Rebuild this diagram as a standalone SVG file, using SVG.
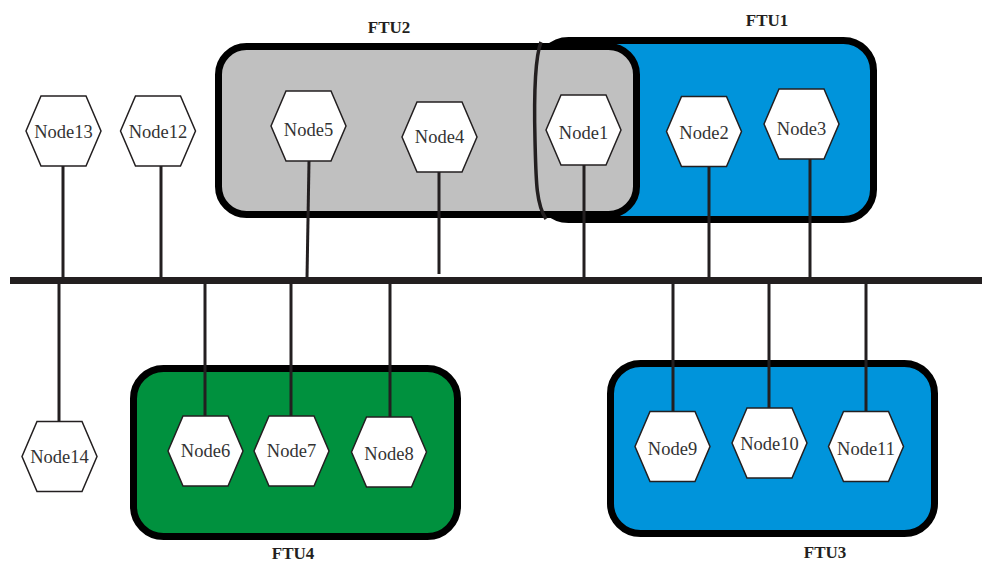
<svg xmlns="http://www.w3.org/2000/svg" xmlns:xlink="http://www.w3.org/1999/xlink" width="982" height="563" viewBox="0 0 982 563">
  <defs>
    <style>
      .ftu { stroke: #000; stroke-width: 7; }
      .ftu-gray { fill: #c0c0c0; }
      .ftu-blue { fill: #0094db; }
      .ftu-green { fill: #00913e; }
      .ftu-label { font-family: "Liberation Serif", "Times New Roman", serif; font-weight: bold; font-size: 17px; fill: #231f20; text-anchor: middle; }
      .hex { fill: #fff; stroke: #231f20; stroke-width: 1.5; }
      .node-label { font-family: "Liberation Serif", "Times New Roman", serif; font-size: 18.5px; fill: #333; text-anchor: middle; }
      .stem { stroke: #231f20; stroke-width: 3; fill: none; }
      .bus { fill: #231f20; }
    </style>
    <polygon id="hex" class="hex" points="-37.5,0 -22.5,-35 22.5,-35 37.5,0 22.5,35 -22.5,35"/>
  </defs>

  <rect width="982" height="563" fill="#fff"/>

  <!-- FTU groups -->
  <g id="ftu1">
    <rect class="ftu ftu-blue" x="538.5" y="40.5" width="335" height="179" rx="30" ry="30"/>
    <text class="ftu-label" x="767" y="26">FTU1</text>
  </g>
  <g id="ftu2">
    <rect class="ftu ftu-gray" x="218.5" y="46.5" width="418" height="168" rx="28" ry="28"/>
    <text class="ftu-label" x="389" y="33">FTU2</text>
  </g>
  <!-- left edge of FTU1 showing through the FTU2 area -->
  <path d="M 541 42 C 534 60, 534 100, 535 140 C 536 180, 536 204, 546 219" fill="none" stroke="#231f20" stroke-width="3.5"/>
  <g id="ftu4">
    <rect class="ftu ftu-green" x="133.5" y="368.5" width="324" height="168" rx="30" ry="30"/>
    <text class="ftu-label" x="293" y="559">FTU4</text>
  </g>
  <g id="ftu3">
    <rect class="ftu ftu-blue" x="610.5" y="363.5" width="324" height="170" rx="30" ry="30"/>
    <text class="ftu-label" x="825" y="558">FTU3</text>
  </g>

  <!-- bus and drop lines -->
  <g id="connectors">
    <rect class="bus" x="10" y="277" width="972" height="7"/>
    <line class="stem" x1="63" y1="166" x2="63" y2="278"/>
    <line class="stem" x1="161" y1="166" x2="161" y2="278"/>
    <line class="stem" x1="309" y1="161" x2="307" y2="278"/>
    <line class="stem" x1="439" y1="172" x2="439" y2="274"/>
    <line class="stem" x1="584" y1="165" x2="584" y2="278"/>
    <line class="stem" x1="709" y1="166" x2="709" y2="278"/>
    <line class="stem" x1="810" y1="159" x2="810" y2="278"/>
    <line class="stem" x1="59" y1="283" x2="59" y2="422"/>
    <line class="stem" x1="205" y1="283" x2="205" y2="416"/>
    <line class="stem" x1="291" y1="283" x2="291" y2="416"/>
    <line class="stem" x1="390" y1="283" x2="390" y2="417"/>
    <line class="stem" x1="673" y1="283" x2="673" y2="412"/>
    <line class="stem" x1="769" y1="283" x2="769" y2="408"/>
    <line class="stem" x1="866" y1="283" x2="866" y2="412"/>
  </g>

  <!-- nodes -->
  <g id="node13"><use xlink:href="#hex" href="#hex" x="63.5" y="131"/><text class="node-label" x="63.5" y="138">Node13</text></g>
  <g id="node12"><use xlink:href="#hex" href="#hex" x="158" y="131"/><text class="node-label" x="158" y="138">Node12</text></g>
  <g id="node5"><use xlink:href="#hex" href="#hex" x="308.5" y="126"/><text class="node-label" x="308.5" y="136">Node5</text></g>
  <g id="node4"><use xlink:href="#hex" href="#hex" x="439.5" y="137"/><text class="node-label" x="439.5" y="143">Node4</text></g>
  <g id="node1"><use xlink:href="#hex" href="#hex" x="583.5" y="130"/><text class="node-label" x="583.5" y="139">Node1</text></g>
  <g id="node2"><use xlink:href="#hex" href="#hex" x="704" y="131.5"/><text class="node-label" x="704" y="139">Node2</text></g>
  <g id="node3"><use xlink:href="#hex" href="#hex" x="801.5" y="124"/><text class="node-label" x="801.5" y="135">Node3</text></g>
  <g id="node14"><use xlink:href="#hex" href="#hex" x="59.5" y="456.5"/><text class="node-label" x="59.5" y="463">Node14</text></g>
  <g id="node6"><use xlink:href="#hex" href="#hex" x="205.5" y="451"/><text class="node-label" x="205.5" y="457">Node6</text></g>
  <g id="node7"><use xlink:href="#hex" href="#hex" x="291.5" y="451"/><text class="node-label" x="291.5" y="457">Node7</text></g>
  <g id="node8"><use xlink:href="#hex" href="#hex" x="389" y="452"/><text class="node-label" x="389" y="460">Node8</text></g>
  <g id="node9"><use xlink:href="#hex" href="#hex" x="672.5" y="446.5"/><text class="node-label" x="672.5" y="455">Node9</text></g>
  <g id="node10"><use xlink:href="#hex" href="#hex" x="769.5" y="443"/><text class="node-label" x="769.5" y="450">Node10</text></g>
  <g id="node11"><use xlink:href="#hex" href="#hex" x="866" y="446.5"/><text class="node-label" x="866" y="455">Node11</text></g>
</svg>
